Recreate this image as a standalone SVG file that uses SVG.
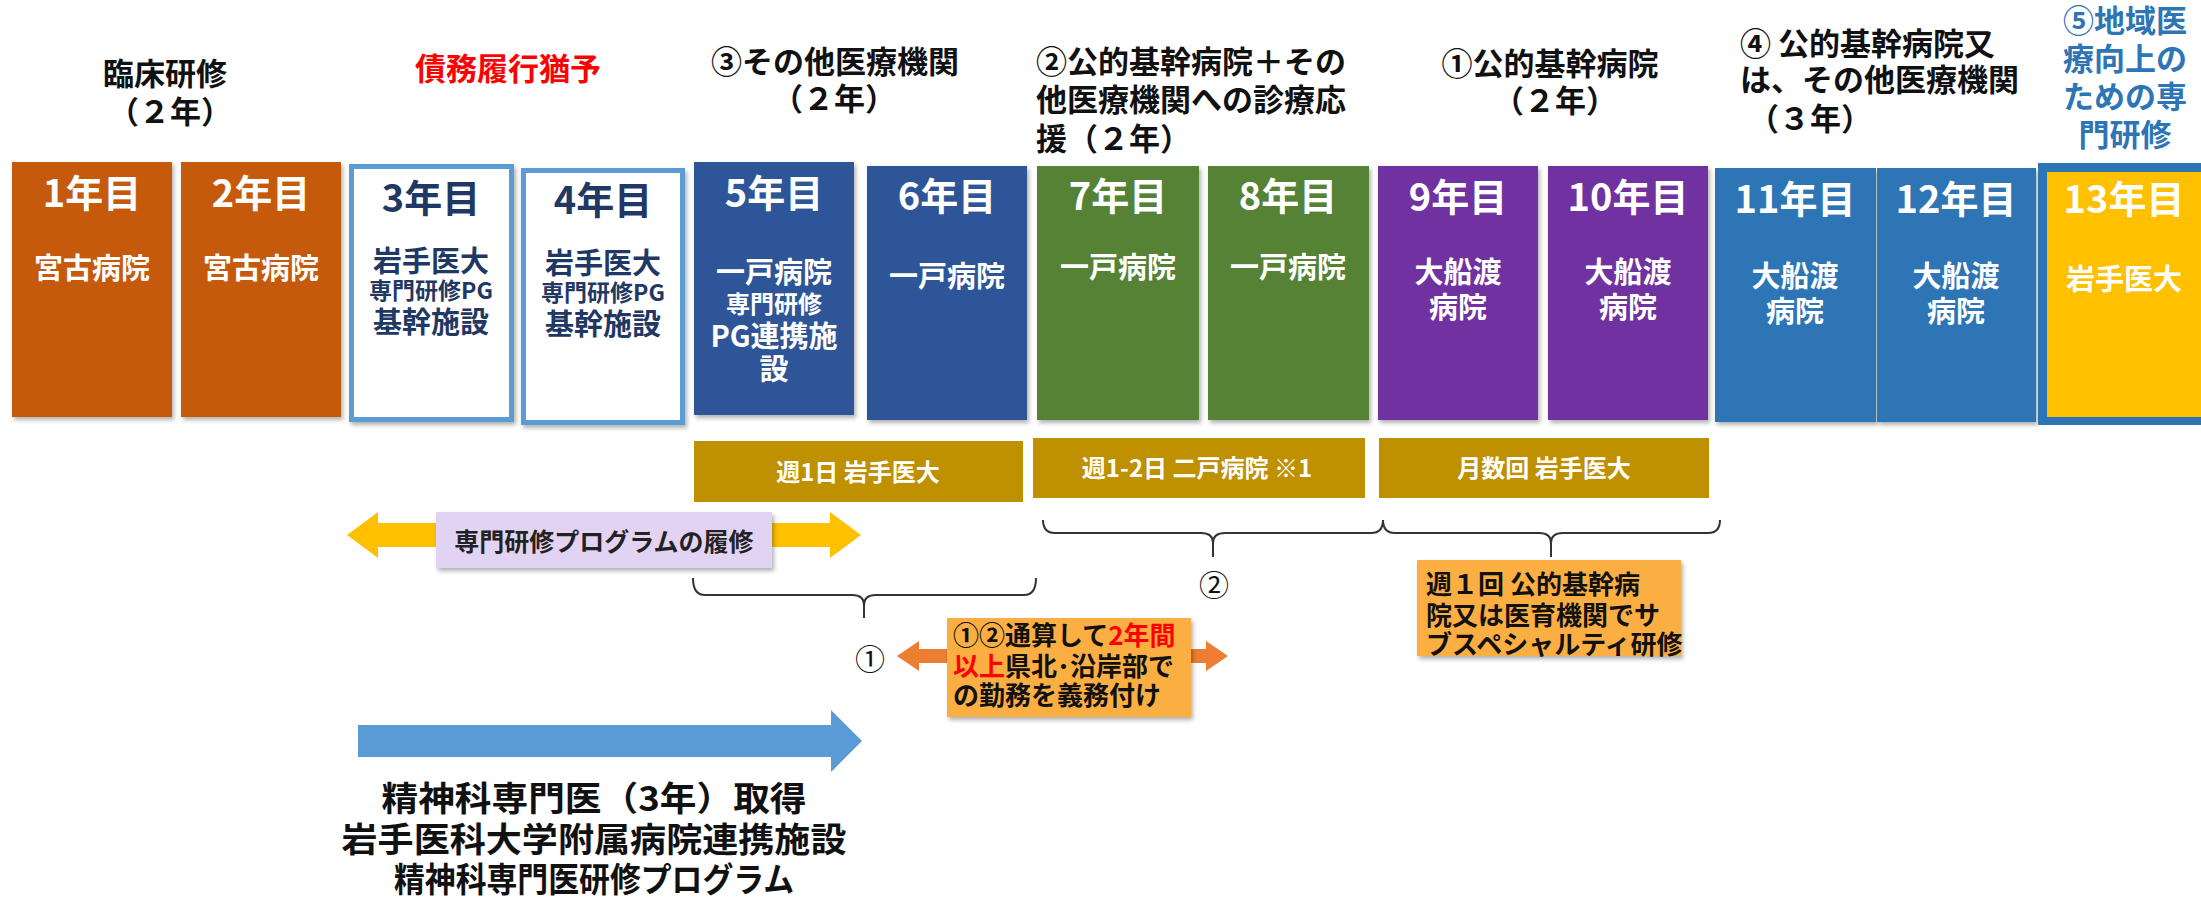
<svg xmlns="http://www.w3.org/2000/svg" width="2201" height="905" viewBox="0 0 2201 905">
<defs>
<style>
text{font-family:"Noto Sans CJK JP","Noto Sans CJK SC",sans-serif;font-weight:700}
.hd{font-size:31px;fill:#111}
.mid{text-anchor:middle}
.yr{font-size:38px;fill:#fff;text-anchor:middle}
.yrn{font-size:38px;fill:#1f3864;text-anchor:middle}
.bx{font-size:29px;fill:#fff;text-anchor:middle}
.bxn{font-size:29px;fill:#1f3864;text-anchor:middle}
.sm{font-size:23px}
.gold{fill:#bf9000}
.gt{font-size:24px;fill:#fff;text-anchor:middle}
.br{fill:none;stroke:#333;stroke-width:2}
.circ{font-size:30px;fill:#111;text-anchor:middle;font-weight:400}
.ob{fill:#fbae42}
.ot{font-size:26px;fill:#111}
.red{fill:#ff0000}
.bot{font-size:34px;fill:#111;text-anchor:middle}
</style>
<filter id="sh" x="-10%" y="-10%" width="130%" height="130%">
<feDropShadow dx="2" dy="3" stdDeviation="2" flood-color="#000" flood-opacity="0.3"/>
</filter>
</defs>
<rect width="2201" height="905" fill="#fff"/>

<g id="headers">
<text class="hd mid" x="165" y="85">臨床研修</text>
<text class="hd mid" x="170" y="123">（２年）</text>
<text class="hd mid red" x="508" y="80">債務履行猶予</text>
<text class="hd mid" x="835" y="73">③その他医療機関</text>
<text class="hd mid" x="834" y="110">（２年）</text>
<text class="hd" x="1036" y="73">②公的基幹病院＋その</text>
<text class="hd" x="1036" y="111">他医療機関への診療応</text>
<text class="hd" x="1036" y="150">援（２年）</text>
<text class="hd mid" x="1550" y="75">①公的基幹病院</text>
<text class="hd mid" x="1555" y="112">（２年）</text>
<text class="hd" x="1740" y="55">④ 公的基幹病院又</text>
<text class="hd" x="1740" y="91">は、その他医療機関</text>
<text class="hd" x="1748" y="130">（３年）</text>
<text class="hd mid" x="2125" y="32" style="fill:#2e75b6">⑤地域医</text>
<text class="hd mid" x="2125" y="70" style="fill:#2e75b6">療向上の</text>
<text class="hd mid" x="2125" y="108" style="fill:#2e75b6">ための専</text>
<text class="hd mid" x="2125" y="146" style="fill:#2e75b6">門研修</text>
</g>

<g id="y1"><rect x="12" y="162" width="160" height="255" fill="#c55a11" filter="url(#sh)"/>
<text class="yr" x="92" y="207">1年目</text><text class="bx" x="92" y="279">宮古病院</text></g>
<g id="y2"><rect x="181" y="162" width="160" height="255" fill="#c55a11" filter="url(#sh)"/>
<text class="yr" x="261" y="207">2年目</text><text class="bx" x="261" y="279">宮古病院</text></g>
<g id="y3"><rect x="351.5" y="166.5" width="160" height="253" fill="#fff" stroke="#5b9bd5" stroke-width="5" filter="url(#sh)"/>
<text class="yrn" x="431" y="212">3年目</text><text class="bxn" x="431" y="272">岩手医大</text>
<text class="bxn sm" x="431" y="299">専門研修PG</text><text class="bxn" x="431" y="333">基幹施設</text></g>
<g id="y4"><rect x="523.5" y="170.5" width="159" height="252" fill="#fff" stroke="#5b9bd5" stroke-width="5" filter="url(#sh)"/>
<text class="yrn" x="603" y="214">4年目</text><text class="bxn" x="603" y="274">岩手医大</text>
<text class="bxn sm" x="603" y="301">専門研修PG</text><text class="bxn" x="603" y="335">基幹施設</text></g>
<g id="y5"><rect x="694" y="162" width="160" height="253" fill="#2f5597" filter="url(#sh)"/>
<text class="yr" x="774" y="207">5年目</text><text class="bx" x="774" y="283">一戸病院</text>
<text class="bx" x="774" y="313" style="font-size:24px">専門研修</text>
<text class="bx" x="774" y="347">PG連携施</text><text class="bx" x="774" y="380">設</text></g>
<g id="y6"><rect x="867" y="166" width="160" height="254" fill="#2f5597" filter="url(#sh)"/>
<text class="yr" x="947" y="210">6年目</text><text class="bx" x="947" y="287">一戸病院</text></g>
<g id="y7"><rect x="1037" y="166" width="162" height="254" fill="#548235" filter="url(#sh)"/>
<text class="yr" x="1118" y="210">7年目</text><text class="bx" x="1118" y="278">一戸病院</text></g>
<g id="y8"><rect x="1208" y="166" width="161" height="254" fill="#548235" filter="url(#sh)"/>
<text class="yr" x="1288" y="210">8年目</text><text class="bx" x="1288" y="278">一戸病院</text></g>
<g id="y9"><rect x="1378" y="166" width="160" height="254" fill="#7030a0" filter="url(#sh)"/>
<text class="yr" x="1458" y="211">9年目</text><text class="bx" x="1458" y="283">大船渡</text><text class="bx" x="1458" y="318">病院</text></g>
<g id="y10"><rect x="1548" y="166" width="160" height="254" fill="#7030a0" filter="url(#sh)"/>
<text class="yr" x="1628" y="211">10年目</text><text class="bx" x="1628" y="283">大船渡</text><text class="bx" x="1628" y="318">病院</text></g>
<g id="y11"><rect x="1715" y="168" width="161" height="254" fill="#2e75b6" filter="url(#sh)"/>
<text class="yr" x="1795" y="213">11年目</text><text class="bx" x="1795" y="287">大船渡</text><text class="bx" x="1795" y="322">病院</text></g>
<g id="y12"><rect x="1877" y="168" width="159" height="254" fill="#2e75b6" filter="url(#sh)"/>
<text class="yr" x="1956" y="213">12年目</text><text class="bx" x="1956" y="287">大船渡</text><text class="bx" x="1956" y="322">病院</text></g>
<g id="y13"><rect x="2038" y="163" width="180" height="262" fill="#2e75b6"/>
<rect x="2047" y="172" width="170" height="245" fill="#ffc000"/>
<text class="yr" x="2124" y="213">13年目</text><text class="bx" x="2124" y="290">岩手医大</text></g>

<g id="bars">
<rect class="gold" x="694" y="441" width="329" height="61"/>
<text class="gt" x="858" y="481">週1日 岩手医大</text>
<rect class="gold" x="1033" y="438" width="332" height="60"/>
<text class="gt" x="1197" y="477">週1-2日 二戸病院 ※1</text>
<rect class="gold" x="1379" y="438" width="330" height="60"/>
<text class="gt" x="1544" y="477">月数回 岩手医大</text>
</g>

<g id="connectors">
<polygon points="347,535 378,512 378,523 830,523 830,512 861,535 830,558 830,547 378,547 378,558" fill="#ffc000"/>
<path class="br" d="M693,578 Q693,595 705,595 L852,595 Q864,595 864,605 Q864,595 876,595 L1024,595 Q1036,595 1036,578 M864,600 L864,618"/>
<path class="br" d="M1043,520 Q1043,533 1055,533 L1201,533 Q1213,533 1213,543 Q1213,533 1225,533 L1371,533 Q1383,533 1383,520 M1213,538 L1213,557"/>
<path class="br" d="M1383,520 Q1383,533 1395,533 L1539,533 Q1551,533 1551,543 Q1551,533 1563,533 L1708,533 Q1720,533 1720,520 M1551,538 L1551,557"/>
<polygon points="897,656 919,641 919,649 1206,649 1206,641 1228,656 1206,671 1206,663 919,663 919,671" fill="#ed7d31"/>
<polygon points="358,725 831,725 831,710 862,741 831,772 831,757 358,757" fill="#5b9bd5"/>
</g>

<g id="program">
<rect x="436" y="512" width="336" height="56" fill="#e2d3f2" filter="url(#sh)"/>
<text x="604" y="551" style="font-size:25px;fill:#222;text-anchor:middle">専門研修プログラムの履修</text>
</g>

<g id="labels">
<text class="circ" x="870" y="670">①</text>
<text class="circ" x="1214" y="596">②</text>
</g>

<g id="duty">
<rect class="ob" x="947" y="618" width="244" height="99" filter="url(#sh)"/>
<text class="ot" x="953" y="645">①②通算して<tspan class="red">2年間</tspan></text>
<text class="ot" x="953" y="676"><tspan class="red">以上</tspan>県北･沿岸部で</text>
<text class="ot" x="953" y="705">の勤務を義務付け</text>
</g>

<g id="sub">
<rect class="ob" x="1417" y="560" width="264" height="96" filter="url(#sh)"/>
<text class="ot" x="1426" y="594">週１回 公的基幹病</text>
<text class="ot" x="1426" y="625">院又は医育機関でサ</text>
<text class="ot" x="1426" y="654">ブスペシャルティ研修</text>
</g>

<g id="bottom">
<text class="bot" x="594" y="811" textLength="425" lengthAdjust="spacingAndGlyphs">精神科専門医（3年）取得</text>
<text class="bot" x="594" y="852" textLength="505" lengthAdjust="spacingAndGlyphs">岩手医科大学附属病院連携施設</text>
<text class="bot" x="594" y="892" textLength="400" lengthAdjust="spacingAndGlyphs">精神科専門医研修プログラム</text>
</g>
</svg>
